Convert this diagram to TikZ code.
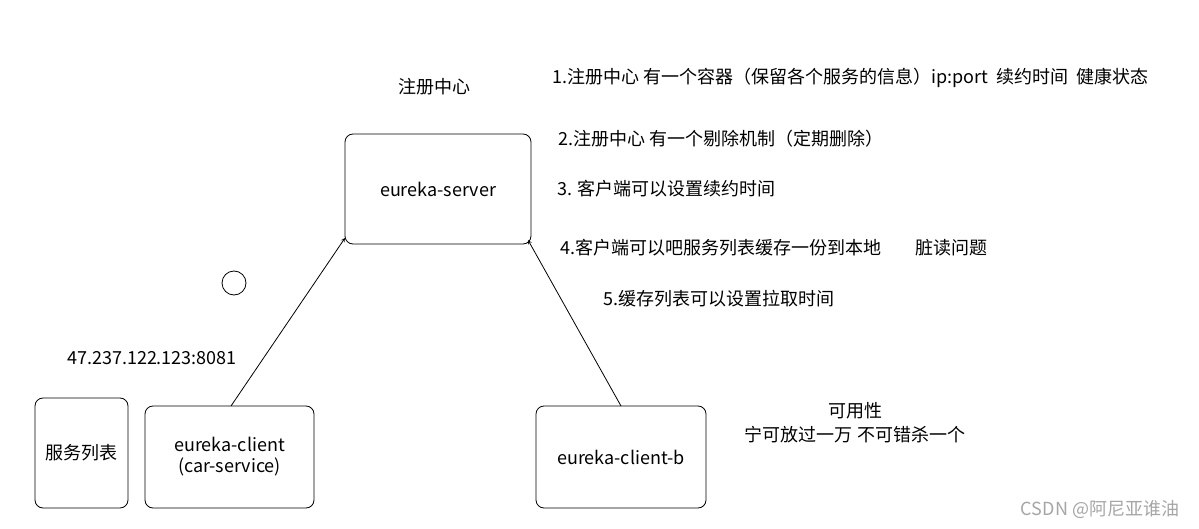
\documentclass[tikz,border=0pt]{standalone}
\usepackage{fontspec}
\setmainfont{Noto Sans CJK SC}
\begin{document}
\begin{tikzpicture}[x=1pt,y=-1pt,
  box/.style={draw,rounded corners=8pt,line width=0.8pt,font=\fontsize{18}{21}\selectfont,align=center},
  txt/.style={font=\fontsize{18}{21}\selectfont,anchor=west,inner sep=0},
  arr/.style={->,>=stealth,line width=0.8pt}]
\useasboundingbox[fill=white] (0,0) rectangle (1199,529);
\node[box,minimum width=186pt,minimum height=110pt] (srv) at (438,189) {eureka-server};
\node[font=\fontsize{18}{21}\selectfont] (reg) at (434,87) {注册中心};
\node[draw,circle,minimum size=24pt,inner sep=0,line width=0.8pt] (c) at (234,283) {};
\node[box,minimum width=93pt,minimum height=110pt] (list) at (81.5,453) {服务列表};
\node[box,minimum width=169pt,minimum height=102pt] (cl) at (229.5,457) {eureka-client\\(car-service)};
\node[box,minimum width=170pt,minimum height=102pt] (clb) at (621,457) {eureka-client-b};
\coordinate (a1) at (345,238);
\coordinate (a2) at (528,240);
\draw[arr] (231,406) -- (a1);
\draw[arr] (621,406) -- (a2);
\node[font=\fontsize{18}{21}\selectfont] (ip) at (152,358) {47.237.122.123:8081};
\node[txt] (t1) at (552,78) {1.注册中心 有一个容器（保留各个服务的信息）ip:port\ \ 续约时间\ \ 健康状态};
\node[txt] (t2) at (558,139) {2.注册中心 有一个剔除机制（定期删除）};
\node[txt] (t3) at (557,189) {3. 客户端可以设置续约时间};
\node[txt] (t4) at (560,248) {4.客户端可以吧服务列表缓存一份到本地\hspace{34pt}脏读问题};
\node[txt] (t5) at (603,299) {5.缓存列表可以设置拉取时间};
\node[font=\fontsize{18}{21}\selectfont] (k1) at (855,411) {可用性};
\node[font=\fontsize{18}{21}\selectfont] (k2) at (855,435) {宁可放过一万 不可错杀一个};
\node[font=\fontsize{18}{21}\selectfont,text=gray!70] (wm) at (1100,510) {CSDN @阿尼亚谁油};
\end{tikzpicture}
\end{document}
